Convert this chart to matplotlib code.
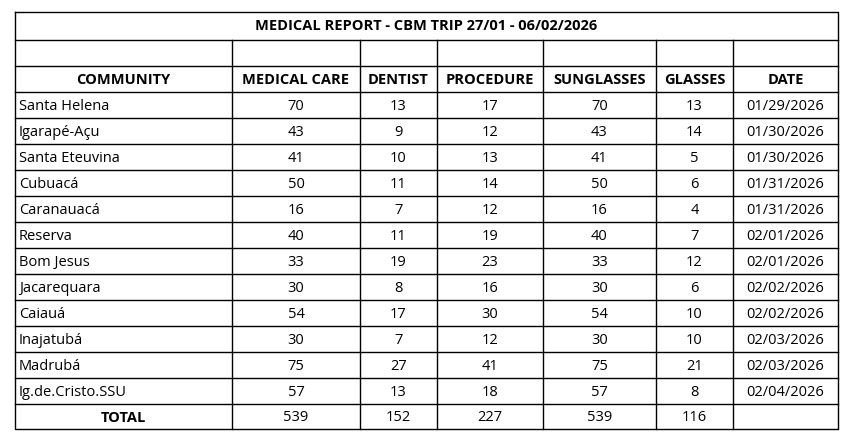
import matplotlib
matplotlib.use("Agg")
import matplotlib.pyplot as plt

title = "MEDICAL REPORT - CBM TRIP 27/01 - 06/02/2026"
headers = ["COMMUNITY", "MEDICAL CARE", "DENTIST", "PROCEDURE", "SUNGLASSES", "GLASSES", "DATE"]
communities = ["Santa Helena", "Igarapé-Açu", "Santa Eteuvina", "Cubuacá", "Caranauacá", "Reserva",
               "Bom Jesus", "Jacarequara", "Caiauá", "Inajatubá", "Madrubá", "Ig.de.Cristo.SSU"]
medical = [70, 43, 41, 50, 16, 40, 33, 30, 54, 30, 75, 57]
dentist = [13, 9, 10, 11, 7, 11, 19, 8, 17, 7, 27, 13]
procedure = [17, 12, 13, 14, 12, 19, 23, 16, 30, 12, 41, 18]
sunglasses = [70, 43, 41, 50, 16, 40, 33, 30, 54, 30, 75, 57]
glasses = [13, 14, 5, 6, 4, 7, 12, 6, 10, 10, 21, 8]
dates = ["01/29/2026", "01/30/2026", "01/30/2026", "01/31/2026", "01/31/2026", "02/01/2026",
         "02/01/2026", "02/02/2026", "02/02/2026", "02/03/2026", "02/03/2026", "02/04/2026"]
totals = ["TOTAL", "539", "152", "227", "539", "116", ""]

W, H = 854, 444
fig = plt.figure(figsize=(W/100, H/100), dpi=100)
ax = fig.add_axes([0, 0, 1, 1])
ax.set_xlim(0, W); ax.set_ylim(H, 0); ax.axis("off")
plt.rcParams['font.family'] = ['Open Sans', 'DejaVu Sans']

cols = [15, 232, 360, 437, 543, 656, 733, 838]
y_title, y_empty, y_head = 12, 40, 66
rh = 26
y_data = 92
n = len(communities)
y_total = y_data + n*rh
y_end = y_total + 25
lw = 1.0
c = "black"
fs = 10.5

# outer border
ax.plot([cols[0], cols[-1], cols[-1], cols[0], cols[0]], [y_title, y_title, y_end, y_end, y_title], color=c, lw=lw)
# horizontal lines
for y in [y_empty, y_head, y_data] + [y_data + i*rh for i in range(1, n+1)]:
    ax.plot([cols[0], cols[-1]], [y, y], color=c, lw=lw)
# vertical lines
for x in cols[1:-1]:
    ax.plot([x, x], [y_empty, y_end], color=c, lw=lw)

ax.text((cols[0]+cols[-1])/2, (y_title+y_empty)/2, title, ha="center", va="center", fontsize=fs, fontweight="bold")
for j, h in enumerate(headers):
    ax.text((cols[j]+cols[j+1])/2, (y_head+y_data)/2 + 1, h, ha="center", va="center", fontsize=fs, fontweight="bold")

for i in range(n):
    yc = y_data + i*rh + rh/2 + 1
    ax.text(cols[0]+4, yc, communities[i], ha="left", va="center", fontsize=fs)
    vals = [medical[i], dentist[i], procedure[i], sunglasses[i], glasses[i], dates[i]]
    for j, v in enumerate(vals, start=1):
        ax.text((cols[j]+cols[j+1])/2, yc, str(v), ha="center", va="center", fontsize=fs)

yc = (y_total + y_end)/2 + 1
for j, v in enumerate(totals):
    ax.text((cols[j]+cols[j+1])/2, yc, v, ha="center", va="center", fontsize=fs,
            fontweight="bold" if j == 0 else "normal")

fig.savefig("out.png", dpi=100, facecolor="white")
